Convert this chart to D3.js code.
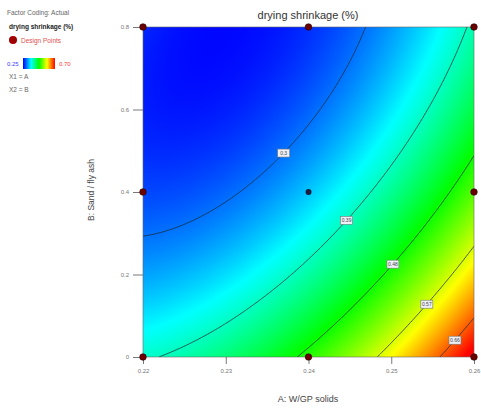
<!DOCTYPE html>
<html><head><meta charset="utf-8">
<script src="https://cdn.jsdelivr.net/npm/d3@7"></script>
<style>
html,body{margin:0;padding:0;background:#fff;}
svg{display:block;font-family:"Liberation Sans",Arial,sans-serif;}
</style></head>
<body>
<svg id="chart" width="481" height="408"></svg>
<script>
// ---- data ----
const title = "drying shrinkage (%)";
const xLabel = "A: W/GP solids";
const yLabel = "B: Sand / fly ash";
const xDomain = [0.22, 0.26];
const yDomain = [0, 0.8];
const xTicks = [0.22, 0.23, 0.24, 0.25, 0.26];
const yTicks = [0, 0.2, 0.4, 0.6, 0.8];
// predicted response at the 3x3 design grid (rows: B = 0, 0.4, 0.8; cols: A = 0.22, 0.24, 0.26)
const gridA = [0.22, 0.24, 0.26];
const gridB = [0, 0.4, 0.8];
const gridValues = [
  [0.385, 0.491, 0.716],
  [0.281, 0.338, 0.513],
  [0.267, 0.270, 0.398]
];
const contourLevels = [0.30, 0.39, 0.48, 0.57, 0.66];
const contourLabelText = ["0.3", "0.39", "0.48", "0.57", "0.66"];
const contourLabelA = [0.2370, 0.2446, 0.2502, 0.2543, 0.2577];
const designA = [0.22, 0.24, 0.26, 0.22, 0.26, 0.22, 0.24, 0.26];
const designB = [0, 0, 0, 0.4, 0.4, 0.8, 0.8, 0.8];
const centerA = [0.24], centerB = [0.4];
const colorDomain = [0.25, 0.70];
const colorStops = ["#0000ff", "#00ffff", "#00ff00", "#ffff00", "#ff0000"];

// ---- layout ----
const svg = d3.select("#chart");
const m = {left: 143, top: 27, right: 474, bottom: 357};
const W = m.right - m.left, H = m.bottom - m.top;
const x = d3.scaleLinear().domain(xDomain).range([m.left, m.right]);
const y = d3.scaleLinear().domain(yDomain).range([m.bottom, m.top]);

const cs = d3.scaleLinear()
  .domain(d3.range(colorStops.length).map(i => colorDomain[0] + i*(colorDomain[1]-colorDomain[0])/(colorStops.length-1)))
  .range(colorStops).clamp(true);

// biquadratic Lagrange surface through the 3x3 grid
function lag(t) { return [2*(t-0.5)*(t-1), -4*t*(t-1), 2*t*(t-0.5)]; }
function surf(a, b) {
  const u = (a - gridA[0])/(gridA[2]-gridA[0]);
  const v = (b - gridB[0])/(gridB[2]-gridB[0]);
  const lu = lag(u), lv = lag(v);
  let s = 0;
  for (let j = 0; j < 3; j++) for (let i = 0; i < 3; i++) s += lv[j]*lu[i]*gridValues[j][i];
  return s;
}

// ---- raster ----
const cv = document.createElement("canvas");
cv.width = W; cv.height = H;
const ctx = cv.getContext("2d");
const img = ctx.createImageData(W, H);
for (let py = 0; py < H; py++) {
  for (let px = 0; px < W; px++) {
    const c = d3.rgb(cs(surf(x.invert(m.left + px + 0.5), y.invert(m.top + py + 0.5))));
    const k = (py*W + px)*4;
    img.data[k] = c.r; img.data[k+1] = c.g; img.data[k+2] = c.b; img.data[k+3] = 255;
  }
}
ctx.putImageData(img, 0, 0);

const defs = svg.append("defs");
defs.append("clipPath").attr("id", "clip")
  .append("rect").attr("x", m.left).attr("y", m.top).attr("width", W).attr("height", H);

svg.append("image").attr("x", m.left).attr("y", m.top).attr("width", W).attr("height", H)
  .attr("preserveAspectRatio", "none").attr("href", cv.toDataURL());

// ---- contours ----
const nx = 221, ny = 221;
const vals = new Array(nx*ny);
for (let j = 0; j < ny; j++) for (let i = 0; i < nx; i++) {
  vals[j*nx + i] = surf(xDomain[0] + (xDomain[1]-xDomain[0])*i/(nx-1), yDomain[1] - (yDomain[1]-yDomain[0])*j/(ny-1));
}
const contours = d3.contours().size([nx, ny]).thresholds(contourLevels)(vals);
const proj = d3.geoTransform({point: function(px, py) {
  this.stream.point(m.left + (px-0.5)*W/(nx-1), m.top + (py-0.5)*H/(ny-1));
}});
svg.append("g").attr("clip-path", "url(#clip)")
  .selectAll("path").data(contours).join("path")
  .attr("d", d3.geoPath(proj)).attr("fill", "none")
  .attr("stroke", "#1a2a30").attr("stroke-width", 0.9).attr("stroke-opacity", 0.85);

// contour labels
function solveB(a, L) {
  let lo = yDomain[0], hi = yDomain[1];
  const flo = surf(a, lo) - L;
  for (let k = 0; k < 50; k++) {
    const mid = (lo+hi)/2, fm = surf(a, mid) - L;
    if ((fm > 0) === (flo > 0)) lo = mid; else hi = mid;
  }
  return (lo+hi)/2;
}
const lg = svg.append("g");
contourLevels.forEach((L, i) => {
  const a = contourLabelA[i], b = solveB(a, L);
  const cx = x(a), cy = y(b);
  lg.append("rect").attr("x", cx-6).attr("y", cy-4).attr("width", 12).attr("height", 8)
    .attr("fill", "#eef0f8").attr("stroke", "#777").attr("stroke-width", 0.6);
  lg.append("text").attr("x", cx).attr("y", cy+2).attr("text-anchor", "middle")
    .attr("font-size", 5).attr("fill", "#444").text(contourLabelText[i]);
});

// ---- frame & axes ----
svg.append("rect").attr("x", m.left).attr("y", m.top).attr("width", W).attr("height", H)
  .attr("fill", "none").attr("stroke", "#666").attr("stroke-width", 0.6);

const yAxis = svg.append("g").attr("transform", `translate(${m.left},0)`)
  .call(d3.axisLeft(y).tickValues(yTicks).tickSize(10).tickPadding(4)
    .tickFormat(d => d === 0 ? "0" : d3.format(".1f")(d)));
const xAxis = svg.append("g").attr("transform", `translate(0,${m.bottom})`)
  .call(d3.axisBottom(x).tickValues(xTicks).tickSize(7).tickPadding(5)
    .tickFormat(d3.format(".2f")));
[yAxis, xAxis].forEach(g => {
  g.select(".domain").remove();
  g.selectAll("line").attr("stroke", "#555").attr("stroke-width", 0.8);
  g.selectAll("text").attr("font-size", 6).attr("fill", "#777");
});

// design points
const dp = svg.append("g");
dp.selectAll("circle.d").data(designA.map((a, i) => [a, designB[i]])).join("circle")
  .attr("class", "d").attr("cx", d => x(d[0])).attr("cy", d => y(d[1])).attr("r", 3.3)
  .attr("fill", "#6a0000").attr("stroke", "#2a0000").attr("stroke-width", 0.6);
dp.selectAll("circle.c").data(centerA.map((a, i) => [a, centerB[i]])).join("circle")
  .attr("class", "c").attr("cx", d => x(d[0])).attr("cy", d => y(d[1])).attr("r", 3)
  .attr("fill", "#1c1c3c");

// titles
svg.append("text").attr("x", 308).attr("y", 19).attr("text-anchor", "middle")
  .attr("font-size", 11).attr("fill", "#333").text(title);
svg.append("text").attr("x", 308).attr("y", 402).attr("text-anchor", "middle")
  .attr("font-size", 9).attr("fill", "#444").text(xLabel);
svg.append("text").attr("transform", "translate(94,190) rotate(-90)").attr("text-anchor", "middle")
  .attr("font-size", 8.5).attr("fill", "#444").text(yLabel);

// ---- legend ----
const leg = svg.append("g");
leg.append("text").attr("x", 7).attr("y", 15).attr("font-size", 6.5).attr("fill", "#666").text("Factor Coding: Actual");
leg.append("text").attr("x", 9).attr("y", 29).attr("font-size", 6.5).attr("font-weight", "bold").attr("fill", "#222").text(title);
leg.append("circle").attr("cx", 13).attr("cy", 40).attr("r", 4).attr("fill", "#a00000");
leg.append("text").attr("x", 21).attr("y", 42.5).attr("font-size", 6.5).attr("fill", "#e05050").text("Design Points");
const grad = defs.append("linearGradient").attr("id", "lgrad");
colorStops.forEach((c, i) => grad.append("stop").attr("offset", (i/(colorStops.length-1)*100) + "%").attr("stop-color", c));
leg.append("rect").attr("x", 23).attr("y", 58).attr("width", 32).attr("height", 11).attr("fill", "url(#lgrad)");
leg.append("text").attr("x", 7).attr("y", 66).attr("font-size", 6).attr("fill", "#4040ff").text(d3.format(".2f")(colorDomain[0]));
leg.append("text").attr("x", 59).attr("y", 66).attr("font-size", 6).attr("fill", "#ff4040").text(d3.format(".2f")(colorDomain[1]));
leg.append("text").attr("x", 9).attr("y", 79).attr("font-size", 6.5).attr("fill", "#666").text("X1 = A");
leg.append("text").attr("x", 9).attr("y", 92).attr("font-size", 6.5).attr("fill", "#666").text("X2 = B");
</script>
</body></html>
